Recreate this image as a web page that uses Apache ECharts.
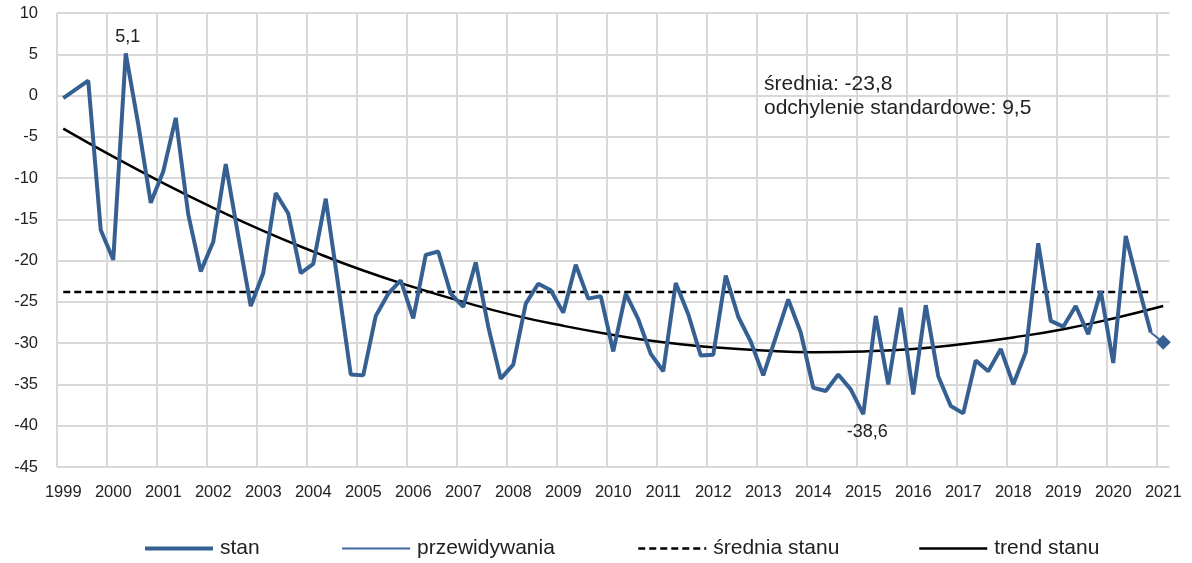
<!DOCTYPE html>
<html>
<head>
<meta charset="utf-8">
<script src="https://cdn.jsdelivr.net/npm/echarts@6.0.0/dist/echarts.min.js"></script>
<style>
  html, body { margin: 0; padding: 0; background: #fff; }
  #chart { width: 1192px; height: 563px; }
</style>
</head>
<body>
<div id="chart"></div>
<script>
const years = [1999, 2000, 2001, 2002, 2003, 2004, 2005, 2006, 2007, 2008, 2009,
  2010, 2011, 2012, 2013, 2014, 2015, 2016, 2017, 2018, 2019, 2020, 2021]

// quarterly readings, 1999 Q1 .. 2020 Q4 (1999 Q2 missing)
const stan = [
  -0.3, null, 1.8, -16.3,
  -19.9, 5.1, -3.5, -13.0,
  -9.2, -2.7, -14.4, -21.3,
  -17.7, -8.3, -17.0, -25.5,
  -21.5, -11.8, -14.3, -21.5,
  -20.4, -12.5, -23.0, -33.8,
  -33.9, -26.7, -24.0, -22.4,
  -27.0, -19.3, -18.9, -24.0,
  -25.6, -20.2, -28.0, -34.3,
  -32.6, -25.2, -22.8, -23.6,
  -26.3, -20.5, -24.6, -24.3,
  -31.0, -24.0, -27.1, -31.3,
  -33.4, -22.7, -26.5, -31.5,
  -31.4, -21.8, -26.8, -29.8,
  -33.9, -29.3, -24.7, -28.7,
  -35.4, -35.8, -33.8, -35.6,
  -38.6, -26.7, -35.0, -25.7,
  -36.2, -25.4, -34.0, -37.6,
  -38.5, -32.1, -33.4, -30.7,
  -35.0, -31.1, -17.9, -27.3,
  -28.0, -25.5, -28.9, -23.7,
  -32.4, -17.0, -23.0, -28.7,
]
// forecast: last observed quarter -> 2021 Q1
const przewidywania = [-28.7, -29.9]
const meanValue = -23.8
const stdDev = 9.5
// trend read at each year's first quarter, 1999 .. 2021
const trendYearly = [-4.0, -7.4, -10.6, -13.6, -16.4, -18.9, -21.2, -23.2, -25.0,
  -26.6, -27.9, -29.0, -29.9, -30.5, -30.9, -31.1, -31.0, -30.7, -30.1, -29.3,
  -28.3, -27.0, -25.5]

const categories = []
years.forEach((y, i) => {
  const quarters = i === years.length - 1 ? 1 : 4
  for (let q = 1; q <= quarters; q++) categories.push(y + ' Q' + q)
})

const fmt = (v) => String(v).replace('.', ',')
const blue = '#376092'
const textColor = '#222'
const font = 'Liberation Sans'
const gridLine = { color: '#d9d9d9', width: 2 }

const forecastData = categories.map(() => null)
const fStart = stan.length - 1
forecastData[fStart] = przewidywania[0]
forecastData[fStart + 1] = { value: przewidywania[1], symbol: 'diamond', symbolSize: 15 }

const meanData = categories.map((c, i) => (i < stan.length ? meanValue : null))
const trendData = categories.map((c, i) => (i % 4 === 0 ? trendYearly[i / 4] : null))

// line-only legend icons (hide the default marker)
const legendBase = {
  top: 533,
  itemWidth: 68,
  itemHeight: 14,
  itemStyle: { color: 'transparent', borderColor: 'transparent', borderWidth: 0, opacity: 0 },
  textStyle: { fontSize: 21, color: textColor, fontFamily: font, padding: [0, 0, 0, 2] },
}

const chart = echarts.init(document.getElementById('chart'))
chart.setOption({
  animation: false,
  textStyle: { fontFamily: font },
  grid: { left: 57, right: 22.5, top: 13, bottom: 96 },
  legend: [
    { ...legendBase, left: 138, data: ['stan'], lineStyle: { width: 4 } },
    { ...legendBase, left: 336, data: ['przewidywania'], lineStyle: { width: 2.2 } },
    { ...legendBase, left: 632, data: ['średnia stanu'], lineStyle: { width: 2.5 } },
    { ...legendBase, left: 913, data: ['trend stanu'], lineStyle: { width: 2.5 } },
  ],
  xAxis: {
    type: 'category',
    data: categories,
    boundaryGap: true,
    axisLine: { show: false },
    axisTick: { show: false },
    axisLabel: {
      interval: 3,
      formatter: (v) => v.slice(0, 4),
      margin: 17,
      fontSize: 16.5,
      color: textColor,
    },
    splitLine: { show: true, interval: 3, showMaxLine: false, lineStyle: gridLine },
  },
  yAxis: {
    type: 'value',
    min: -45,
    max: 10,
    interval: 5,
    axisLine: { show: false },
    axisTick: { show: false },
    axisLabel: { fontSize: 16.5, color: textColor, margin: 19 },
    splitLine: { lineStyle: gridLine },
  },
  series: [
    {
      name: 'stan',
      type: 'line',
      data: stan,
      connectNulls: true,
      symbol: 'none',
      lineStyle: { color: blue, width: 4 },
      itemStyle: { color: blue },
      z: 4,
      markPoint: {
        symbol: 'circle',
        symbolSize: 1,
        itemStyle: { color: 'transparent' },
        label: { color: textColor, fontSize: 18, formatter: (p) => fmt(p.value) },
        data: [
          { type: 'max', label: { position: 'top', distance: 8, offset: [2, 1] } },
          { type: 'min', label: { position: 'bottom', distance: 8, offset: [4, 0] } },
        ],
      },
    },
    {
      name: 'przewidywania',
      type: 'line',
      data: forecastData,
      symbol: 'none',
      lineStyle: { color: '#3d69a0', width: 2 },
      itemStyle: { color: blue },
      z: 4,
    },
    {
      name: 'średnia stanu',
      type: 'line',
      data: meanData,
      symbol: 'none',
      lineStyle: { color: '#000', width: 2.5, type: [7, 4] },
      itemStyle: { color: '#000' },
      z: 3,
    },
    {
      name: 'trend stanu',
      type: 'line',
      data: trendData,
      connectNulls: true,
      smooth: true,
      symbol: 'none',
      lineStyle: { color: '#000', width: 2.5 },
      itemStyle: { color: '#000' },
      z: 3,
    },
  ],
  graphic: [
    {
      type: 'text',
      left: 764,
      top: 72,
      z: 100,
      style: {
        text: 'średnia: ' + fmt(meanValue) + '\nodchylenie standardowe: ' + fmt(stdDev),
        font: '21px "Liberation Sans"',
        fill: textColor,
        lineHeight: 24,
      },
    },
  ],
})
</script>
</body>
</html>
